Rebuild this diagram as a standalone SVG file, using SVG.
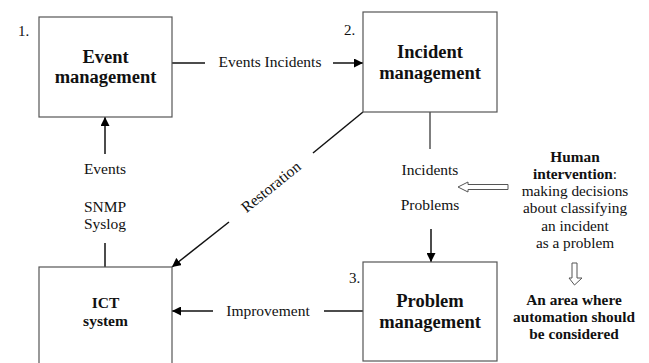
<svg xmlns="http://www.w3.org/2000/svg" width="649" height="363" viewBox="0 0 649 363">
<defs>
<marker id="ah" viewBox="0 0 10 10" refX="10" refY="5" markerWidth="9" markerHeight="9" markerUnits="userSpaceOnUse" orient="auto">
<path d="M0,0 L10,5 L0,10 Z" fill="#000"/>
</marker>
<style>
text{font-family:"Liberation Serif","Times New Roman",serif;fill:#111;}
.box{fill:#fff;stroke:#555;stroke-width:1.2;}
.t{font-size:18.5px;font-weight:bold;text-anchor:middle;}
.l{font-size:15.5px;text-anchor:middle;}
.n{font-size:15px;}
.h{font-size:15.3px;text-anchor:middle;}
.b{font-weight:bold;}
.c{stroke:#111;stroke-width:1.5;fill:none;}
.g{stroke:#555;stroke-width:1.5;fill:none;}
.hol{fill:#fff;stroke:#555;stroke-width:1;}
</style>
</defs>
<rect width="649" height="363" fill="#fff"/>
<g id="connectors">
<line class="c" x1="172" y1="63" x2="205" y2="63"/>
<line class="c" x1="333" y1="63" x2="363" y2="63" marker-end="url(#ah)"/>
<line class="c" x1="105" y1="154" x2="105" y2="117" marker-end="url(#ah)"/>
<line class="c" x1="105" y1="243" x2="105" y2="267"/>
<line class="c" x1="363" y1="112" x2="313" y2="153"/>
<line class="c" x1="229" y1="222" x2="172" y2="267" marker-end="url(#ah)"/>
<line class="g" x1="430" y1="112" x2="430" y2="149"/>
<line class="c" x1="431" y1="229" x2="431" y2="262" marker-end="url(#ah)"/>
<line class="c" x1="363" y1="311" x2="324" y2="311"/>
<line class="c" x1="213" y1="311" x2="172" y2="311" marker-end="url(#ah)"/>
<path class="hol" d="M508,184.5 L468,184.5 L468,182 L458,187 L468,192 L468,189.5 L508,189.5 Z"/>
<path class="hol" d="M572,263 L577,263 L577,278 L582,278 L574.5,285 L569,278 L572,278 Z"/>
<text class="l" x="270" y="67">Events Incidents</text>
<text class="l" x="105" y="174">Events</text>
<text class="l" x="105" y="212">SNMP</text>
<text class="l" x="105" y="229">Syslog</text>
<text class="l" x="271" y="192" transform="rotate(-39 271 187)">Restoration</text>
<text class="l" x="430" y="175">Incidents</text>
<text class="l" x="430" y="210">Problems</text>
<text class="l" x="268" y="316">Improvement</text>
</g>
<g id="node1">
<rect class="box" x="39" y="17" width="133" height="100"/>
<text class="n" x="18" y="36">1.</text>
<text class="t" x="105.5" y="63">Event</text>
<text class="t" x="105.5" y="83">management</text>
</g>
<g id="node2">
<rect class="box" x="363" y="12" width="134" height="100"/>
<text class="n" x="344" y="35">2.</text>
<text class="t" x="430" y="58">Incident</text>
<text class="t" x="430" y="79">management</text>
</g>
<g id="node3">
<rect class="box" x="363" y="262" width="134" height="99"/>
<text class="n" x="349" y="283">3.</text>
<text class="t" x="430" y="307">Problem</text>
<text class="t" x="430" y="328">management</text>
</g>
<g id="node4">
<rect class="box" x="39" y="267" width="133" height="110"/>
<text class="t" x="105.5" y="308" style="font-size:15.5px">ICT</text>
<text class="t" x="105.5" y="326" style="font-size:15.5px">system</text>
</g>
<g id="note">
<text class="h b" x="575" y="162">Human</text>
<text class="h" x="575" y="179"><tspan class="b">intervention</tspan>:</text>
<text class="h" x="575" y="196">making decisions</text>
<text class="h" x="575" y="213">about classifying</text>
<text class="h" x="575" y="231">an incident</text>
<text class="h" x="575" y="248">as a problem</text>
<text class="h b" x="574" y="305">An area where</text>
<text class="h b" x="574" y="322">automation should</text>
<text class="h b" x="574" y="339">be considered</text>
</g>
</svg>
